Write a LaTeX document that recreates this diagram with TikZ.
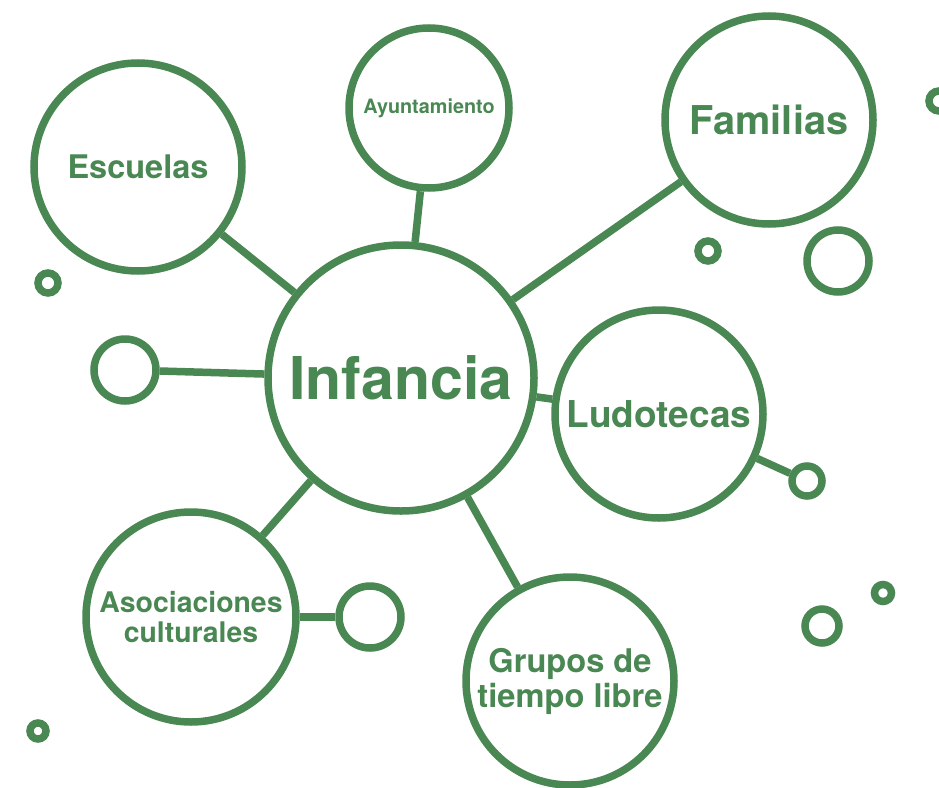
\documentclass[tikz,border=0pt]{standalone}
\usepackage{fontspec}
\setmainfont{TeX Gyre Heros}
\definecolor{verde}{RGB}{73,135,83}
\usepackage{tikz}
\usetikzlibrary{positioning}

\begin{document}
\begin{tikzpicture}[x = 1pt, y = -1pt, line width = 7.5pt, draw = verde,
    bubble/.style = {circle, draw = verde, text = verde, inner sep = 0pt, align = center},
    dot/.style = {circle, draw = verde, inner sep = 0pt}]
        \useasboundingbox (0,0) rectangle (939,787);

        % main bubbles
        \node (infancia) [bubble, minimum size = 266pt, font = \fontsize{59}{60}\selectfont\bfseries] at (401,378) {Infancia};
        \node (escuelas) [bubble, minimum size = 208pt, font = \fontsize{32.5}{34}\selectfont\bfseries] at (138,167) {Escuelas};
        \node (ayuntamiento) [bubble, minimum size = 160pt, font = \fontsize{19.8}{22}\selectfont\bfseries] at (429,108) {Ayuntamiento};
        \node (familias) [bubble, minimum size = 208pt, font = \fontsize{39.7}{42}\selectfont\bfseries] at (769,120) {Familias};
        \node (ludotecas) [bubble, minimum size = 208pt, font = \fontsize{37}{40}\selectfont\bfseries] at (659,414) {Ludotecas};
        \node (asociaciones) [bubble, minimum size = 210pt, font = \fontsize{28.4}{30}\selectfont\bfseries] at (191,617) {Asociaciones\\culturales};
        \node (grupos) [bubble, minimum size = 208pt, font = \fontsize{32.6}{35}\selectfont\bfseries] at (570,681) {Grupos de\\tiempo libre};

        % small circles
        \foreach \x/\y/\r/\n in {125/370/31/bolaA, 370/617/31/bolaB, 838/261/31/bolaC,
                                 807/481/15/bolaD, 822/626/17/bolaE, 883/593/8.5/bolaF,
                                 708/251/10/bolaG, 48/283/10/bolaH, 38/731/8/bolaI, 939/101/10/bolaJ}
        {
            \node (\n) [dot, minimum size = 2*\r pt] at (\x,\y) {};
        }

        \foreach \n in {escuelas, ayuntamiento, familias, ludotecas, grupos, asociaciones, bolaA}
        {
            \draw (infancia) -- (\n);
        }
        \draw (asociaciones) -- (bolaB);
        \draw (ludotecas) -- (bolaD);
    \end{tikzpicture}
\end{document}
